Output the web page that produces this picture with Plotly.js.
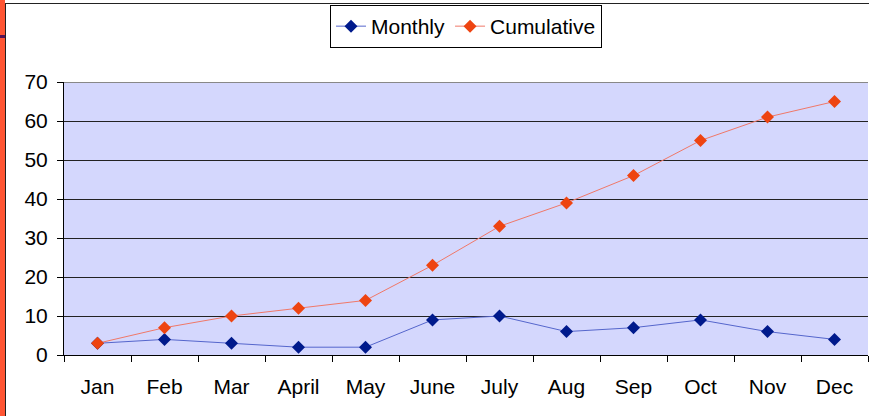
<!DOCTYPE html>
<html>
<head>
<meta charset="utf-8">
<script src="https://cdn.plot.ly/plotly-3.0.1.min.js"></script>
<style>
html,body{margin:0;padding:0;background:#fff;overflow:hidden;}
#wrap{position:relative;width:869px;height:416px;}
#chart{position:absolute;left:0;top:0;width:869px;height:416px;}
.deco{position:absolute;pointer-events:none;}
</style>
</head>
<body>
<div id="wrap">
<div id="chart"></div>
<div class="deco" style="left:0;top:0;width:5px;height:416px;background:#ff5533;"></div>
<div class="deco" style="left:5px;top:3px;width:1px;height:413px;background:#222;"></div>
<div class="deco" style="left:5px;top:3px;width:864px;height:1px;background:#222;"></div>
<div class="deco" style="left:0;top:35px;width:5px;height:3px;background:#551155;"></div>
</div>
<script>
var months = ["Jan","Feb","Mar","April","May","June","July","Aug","Sep","Oct","Nov","Dec"];
var monthly = [3, 4, 3, 2, 2, 9, 10, 6, 7, 9, 6, 4];
var cumulative = [3, 7, 10, 12, 14, 23, 33, 39, 46, 55, 61, 65];

var font = "Liberation Sans, Arial, sans-serif";
var traces = [
  {x: months, y: monthly, name: "Monthly", type: "scatter", mode: "lines+markers",
   line: {color: "#5566cc", width: 1}, marker: {symbol: "diamond", size: 10, color: "#001a8c"}},
  {x: months, y: cumulative, name: "Cumulative", type: "scatter", mode: "lines+markers",
   line: {color: "#f07868", width: 1}, marker: {symbol: "diamond", size: 10, color: "#ee4411"}}
];
var layout = {
  width: 869, height: 416,
  margin: {l: 64, r: 1, t: 82, b: 61, autoexpand: false},
  paper_bgcolor: "#ffffff",
  plot_bgcolor: "#d4d7fd",
  font: {family: font, size: 21, color: "#000"},
  showlegend: true,
  legend: {orientation: "h", x: 0.5, xanchor: "center", xref: "paper", y: 0.988, yanchor: "top", yref: "container",
           bgcolor: "#fff", bordercolor: "#000", borderwidth: 1, font: {family: font, size: 21},
           itemwidth: 30, tracegroupgap: 0},
  xaxis: {type: "category", range: [-0.5, 11.5], autorange: false, showline: true, linecolor: "#000", linewidth: 1,
          ticks: "outside", tickson: "boundaries", ticklen: 6, tickcolor: "#000",
          showgrid: false, zeroline: false, tickfont: {family: font, size: 21},
          ticklabelstandoff: 13, fixedrange: true, automargin: false},
  yaxis: {range: [0, 70], autorange: false, dtick: 10, showline: true, linecolor: "#000", linewidth: 1,
          ticks: "outside", ticklen: 6, tickcolor: "#000",
          showgrid: true, gridcolor: "#222", gridwidth: 1, zeroline: false,
          tickfont: {family: font, size: 21}, ticklabelstandoff: 5, fixedrange: true, automargin: false},
  shapes: [{type: "line", xref: "paper", yref: "y", x0: 0, x1: 1, y0: 70, y1: 70,
            line: {color: "#888", width: 2}}]
};
Plotly.newPlot("chart", traces, layout, {displayModeBar: false, staticPlot: true});
</script>
</body>
</html>
